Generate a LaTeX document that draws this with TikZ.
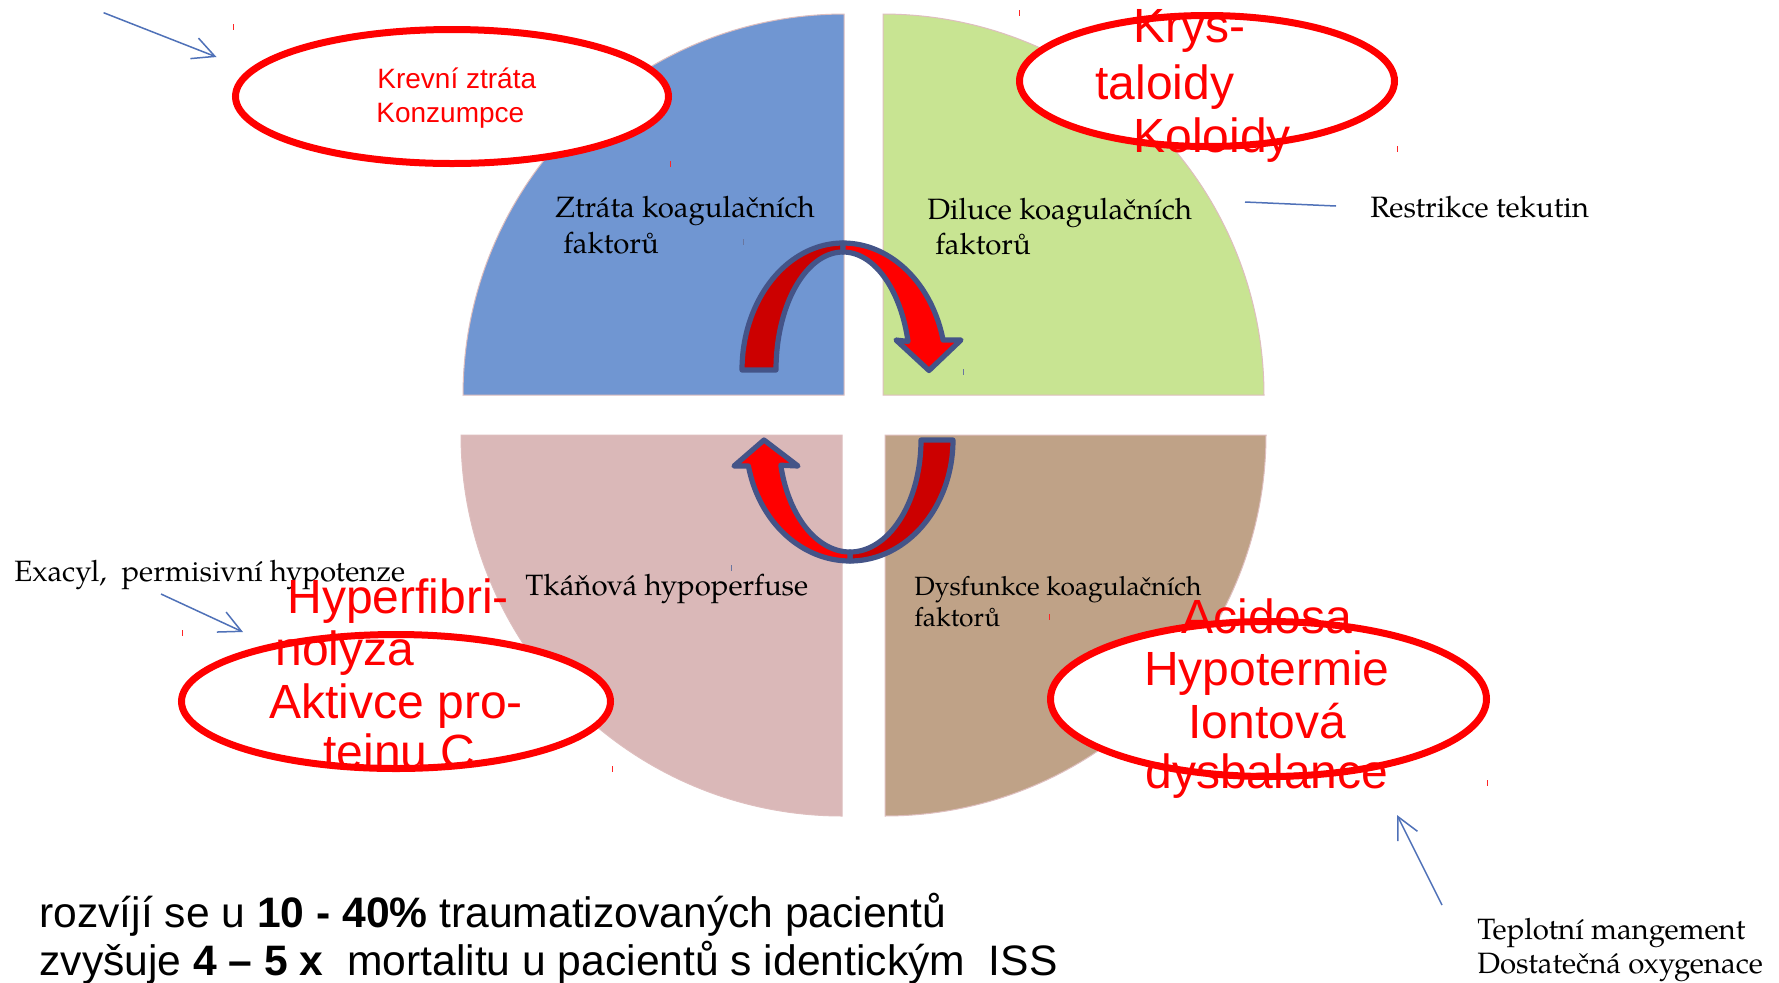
\documentclass[tikz,border=0pt]{standalone}
\usepackage{fontspec}
\newfontfamily\arialf{Liberation Sans}
\newfontfamily\pagella{texgyrepagella-regular.otf}
\usetikzlibrary{arrows.meta,shapes.geometric}
\definecolor{qblue}{RGB}{112,150,210}
\definecolor{qgreen}{RGB}{200,228,146}
\definecolor{qpink}{RGB}{218,184,184}
\definecolor{qtan}{RGB}{191,162,135}
\definecolor{qedge}{RGB}{222,190,190}
\definecolor{arrline}{RGB}{68,84,136}
\definecolor{darkred}{RGB}{204,0,0}
\definecolor{conblue}{RGB}{79,113,184}
\begin{document}
\begin{tikzpicture}[x=0.5pt,y=-0.5pt,
  quad/.style={draw=qedge, line width=0.5pt},
  redell/.style={ellipse, draw=red, line width=3.5pt, fill=white, inner sep=0pt},
  sertext/.style={inner sep=0pt, anchor=base west, font=\pagella\fontsize{14.7}{18}\selectfont},
  sertextsm/.style={sertext, font=\pagella\fontsize{13.2}{16}\selectfont},
  redbig/.style={inner sep=0pt, anchor=base west, text=red, font=\arialf\fontsize{24}{27}\selectfont},
  redbigc/.style={redbig, anchor=base},
  redsmall/.style={inner sep=0pt, anchor=base west, text=red, font=\arialf\fontsize{14}{17}\selectfont},
  bottomtext/.style={inner sep=0pt, anchor=base west, font=\arialf\fontsize{21.3}{25}\selectfont},
  ribbon/.style={draw=arrline, line width=2.6pt, line join=round},
  conn/.style={draw=conblue, line width=0.75pt},
  connarrow/.style={conn, -{Straight Barb[length=11pt,width=11pt,line width=0.75pt]}},
  redtick/.style={draw=red!85, line width=0.5pt},
  darktick/.style={draw=arrline!80, line width=0.5pt},
]
\fill[white] (0,0) rectangle (1779,982);
\useasboundingbox (0,0) rectangle (1779,982);

% quadrants
\path[quad, fill=qblue] (844,395) -- plot[domain=180:270, samples=80] ({844+381*cos(\x)},{395+381*sin(\x)}) -- cycle;
\path[quad, fill=qgreen] (883,395) -- plot[domain=270:360, samples=80] ({883+381*cos(\x)},{395+381*sin(\x)}) -- cycle;
\path[quad, fill=qpink] (842,435) -- plot[domain=90:180, samples=80] ({842+381*cos(\x)},{435+381*sin(\x)}) -- cycle;
\path[quad, fill=qtan] (885,435) -- plot[domain=0:90, samples=80] ({885+381*cos(\x)},{435+381*sin(\x)}) -- cycle;

% small tick marks
\draw[redtick] (233,24) -- (233,30);
\draw[redtick] (670,161) -- (670,167);
\draw[redtick] (1019,10) -- (1019,16);
\draw[redtick] (1397,146) -- (1397,152);
\draw[redtick] (182,630) -- (182,636);
\draw[redtick] (612,766) -- (612,772);
\draw[redtick] (1049,614) -- (1049,620);
\draw[redtick] (1487,780) -- (1487,786);
\draw[darktick] (743,239) -- (743,245);
\draw[darktick] (963,369) -- (963,375);
\draw[darktick] (731,565) -- (731,571);

% serif texts
\node[sertext] (t1a) at (555,217) {Ztráta koagulačních};
\node[sertext] (t1b) at (563,253) {faktorů};
\node[sertext] (t2a) at (927,219) {Diluce koagulačních};
\node[sertext] (t2b) at (935,254) {faktorů};
\node[sertext] (t3) at (1370,217) {Restrikce tekutin};
\node[sertext] (t4) at (14,581) {Exacyl,\ \ permisivní hypotenze};
\node[sertext] (t5) at (525,595) {Tkáňová hypoperfuse};
\node[sertextsm] (t6a) at (914,595) {Dysfunkce koagulačních};
\node[sertextsm] (t6b) at (914,626) {faktorů};
\node[sertext] (t7a) at (1477,939) {Teplotní mangement};
\node[sertext] (t7b) at (1477,973) {Dostatečná oxygenace};

% circular ribbon arrows
\path[ribbon, fill=darkred] plot[domain=180:270, samples=50] ({843+101*cos(\x)},{370+127*sin(\x)})
  -- plot[domain=270:180, samples=50] ({843+67*cos(\x)},{370+118*sin(\x)}) -- cycle;
\path[ribbon, fill=red] plot[domain=270:346, samples=50] ({843+67*cos(\x)},{370+118*sin(\x)})
  -- (896,340) -- (929,370.5) -- (961,340)
  -- plot[domain=346.34:270, samples=50] ({843+103*cos(\x)},{370+127*sin(\x)}) -- cycle;
\path[ribbon, fill=darkred] plot[domain=0:90, samples=50] ({850+103*cos(\x)},{440+121*sin(\x)})
  -- plot[domain=90:0, samples=50] ({850+71*cos(\x)},{440+112*sin(\x)}) -- cycle;
\path[ribbon, fill=red] plot[domain=90:167, samples=50] ({850+71*cos(\x)},{440+112*sin(\x)})
  -- (798,466) -- (764,440) -- (734,466)
  -- plot[domain=167.59:90, samples=50] ({850+104*cos(\x)},{440+121*sin(\x)}) -- cycle;

% red ellipses
\node[redell, minimum width=216.5pt, minimum height=67pt] (e1) at (452,96.5) {};
\node[redell, minimum width=187.5pt, minimum height=65.5pt] (e2) at (1207,81) {};
\node[redell, minimum width=214.5pt, minimum height=67pt] (e3) at (396,701.5) {};
\node[redell, minimum width=218pt, minimum height=77.5pt] (e4) at (1268.5,699) {};

% red texts
\node[redsmall] (k1) at (377,88) {Krevní ztráta};
\node[redsmall] (k2) at (376,122) {Konzumpce};
\node[redbig] (c1) at (1133,42) {Krys-};
\node[redbig] (c2) at (1095,99) {taloidy};
\node[redbig] (c3) at (1133,152) {Koloidy};
\node[redbig] (h1) at (287,613) {Hyperfibri-};
\node[redbig] (h2) at (275,665) {nolyza};
\node[redbig] (h3) at (269,718) {Aktivce pro-};
\node[redbig] (h4) at (323,768) {teinu C};
\node[redbigc] (a1) at (1267,633) {Acidosa};
\node[redbigc] (a2) at (1267,685) {Hypotermie};
\node[redbigc] (a3) at (1267,738) {Iontová};
\node[redbigc] (a4) at (1267,788) {dysbalance};

% bottom text
\node[bottomtext] (b1) at (39,927) {rozvíjí se u \textbf{10 - 40\%} traumatizovaných pacientů};
\node[bottomtext] (b2) at (39,975) {zvyšuje \textbf{4 – 5 x}\ \ mortalitu u pacientů s identickým\ \ ISS};

% connectors
\coordinate (p1s) at (103.6,12.7);
\coordinate (p1e) at (216.5,57);
\coordinate (p2s) at (1245,202);
\coordinate (p2e) at (1336,206);
\coordinate (p3s) at (161,594);
\coordinate (p3e) at (243,632);
\coordinate (p4s) at (1442,905);
\coordinate (p4e) at (1397,815);
\draw[connarrow] (p1s) -- (p1e);
\draw[conn] (p2s) -- (p2e);
\draw[connarrow] (p3s) -- (p3e);
\draw[connarrow] (p4s) -- (p4e);
\end{tikzpicture}
\end{document}
